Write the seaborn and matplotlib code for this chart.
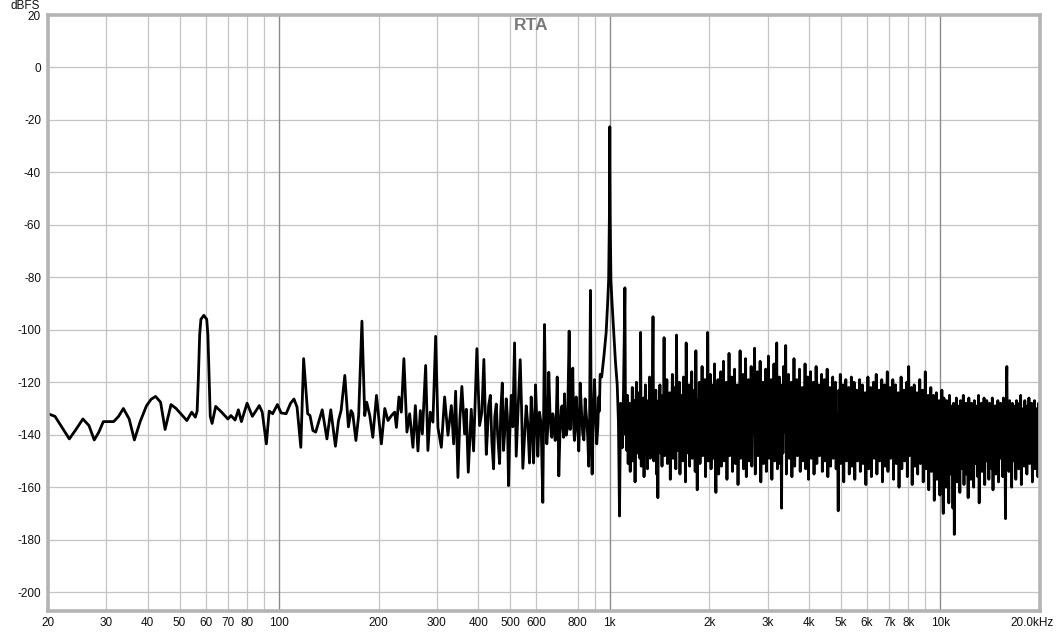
import numpy as np
import matplotlib
matplotlib.use("Agg")
import matplotlib.pyplot as plt
import matplotlib.transforms as mtransforms
import seaborn as sns

# low / mid band, read point by point (Hz, dBFS)
low_freq = [20, 21, 22, 23.2, 24.3, 25.5, 26.6, 27.6, 28.5, 29.4, 31.6, 32.7, 33.8, 35.2, 36.5,
            38.0, 39.7, 41.0, 42.3, 43.8, 45.2, 47.1, 48.8, 50.4, 52.6, 54.4, 55.8, 56.5, 57.0,
            57.5, 58.0, 59.2, 60.4, 60.9, 61.4, 61.9, 62.7, 64.3, 67.0, 70.0, 71.5, 73.6, 75.3,
            76.9, 80.0, 83.0, 87.1, 88.9, 91.5, 93.3, 95.6, 98.8, 101.4, 105, 108.3, 110.9,
            113.3, 116.3, 118.6, 122, 124, 126.5, 129, 135, 139.5, 143.3, 148, 151.2, 154, 158,
            162, 165, 167, 170.7, 174, 178, 181.5, 184, 188, 192, 197]
low_db = [-132, -133, -137, -141.6, -138, -134, -136.5, -142, -139, -135, -135, -133, -130, -134,
          -142, -135, -129, -126.5, -125.4, -127.6, -138, -128.5, -130, -132, -134.6, -131.4,
          -133.3, -131, -118, -102, -96, -94.5, -96, -102, -118, -133, -135.7, -129.2, -131.4,
          -134, -132.7, -134.4, -130.5, -135, -128, -133, -128.9, -131.4, -143.5, -131, -132,
          -128.5, -131.7, -132, -128, -126.4, -129.5, -144.8, -111, -132, -132.7, -138.4, -139,
          -130.5, -141.6, -130.5, -144.4, -134.6, -130.7, -117.4, -137, -130.8, -132, -142.2,
          -132.7, -96.7, -132.7, -127.6, -132.7, -141, -125]

mid_freq = [203.8, 208.7, 213.4, 218.6, 223.6, 226.3, 230.3, 234.2, 238.4, 243.5, 248.2, 253.9,
            258.2, 262.9, 267.3, 271.1, 277.4, 281.8, 286.5, 291.8, 297.4, 302.2, 309.4, 316.6,
            324.0, 331.7, 337.1, 341.8, 347.3, 352, 357.0, 363.8, 368.2, 373.3, 381.1, 387.3,
            396.3, 403.8, 410.4, 416.1, 423.2, 427, 430, 435.2, 440, 445.2, 449, 453.6, 458,
            464.2, 468, 473.0, 477, 480.6, 486.3, 490, 494.1, 498, 503.5, 509, 515.2, 521.2, 525,
            529.6, 535.9, 541, 545.8, 552, 558.8, 565, 571.8, 575, 578.5, 583, 588.0, 592, 596.2,
            601, 605.8, 609, 612.9, 620, 627.2, 634.6, 640, 644.9, 649, 653.9, 659, 665.1, 668,
            672.4, 678, 683.7, 688, 693.4, 697, 701.1, 707, 712.9, 717, 720.9, 725, 729.4, 733,
            738.2, 745, 753.6, 759, 764.2, 768, 772.7, 777, 781.8, 786, 791.2, 798, 805.6, 809,
            813.6, 821, 828.4, 835, 842.4, 847, 851.8, 857, 863.6, 869, 874.0, 879, 884.2, 891,
            898.8, 905, 913.0, 920, 926.0, 930, 935.0]
mid_db = [-143.5, -130, -134.6, -132.7, -131.4, -137.2, -125.6, -131.4, -111, -139, -132, -144.8,
          -128.9, -146.2, -130.8, -139.7, -113.6, -146, -131.4, -135.2, -102.5, -137.3, -144.8,
          -125.6, -140.2, -128.9, -143.5, -123.4, -156.3, -134, -121.6, -139.7, -130.3, -154.3,
          -130.3, -146.2, -107.2, -136.5, -131.4, -111.3, -147.5, -138, -129, -125, -143,
          -153, -133, -128.3, -140, -151, -131, -120.3, -146, -139.7, -126.3, -133, -159.4,
          -141, -125, -137, -105, -148.2, -138, -126.3, -111.4, -130, -152.8, -141, -129, -136,
          -150.8, -140, -125.6, -134, -150.8, -139, -121, -133, -148.2, -140, -131.4, -136,
          -165.8, -98, -133, -143.5, -138, -116.2, -131, -139.7, -141, -132, -135, -142.2, -137,
          -118, -132, -155.7, -139, -130.3, -129, -136.5, -141, -124.4, -133, -140.2, -137,
          -100.5, -138, -132, -127, -114.6, -136, -142.2, -138, -125.6, -133, -146.2, -139,
          -120.3, -131, -139.7, -142, -126.3, -131, -134.6, -140, -152, -133, -85, -138, -155,
          -135, -119, -130, -143.5, -137, -125.6, -131, -117]

# 1 kHz test tone and its skirt
tone_freq = [945, 960, 975, 985, 992, 997, 1000, 1003, 1008, 1016, 1028, 1040, 1053, 1062, 1070,
             1078, 1090, 1100, 1111, 1116]
tone_db = [-118, -110, -101, -90, -81, -58, -22.6, -58, -81, -90, -101, -112, -121, -135, -171,
           -128, -145, -124, -84, -140]

# dense noise floor 1.12 kHz .. 20 kHz, one value per analyser bin
hf_db = [
    -132, -146, -125, -151, -137, -128, -154, -131, -143, -122, -150, -134, -127, -158, -133, -120, -147, -129, -141, -124,
    -149, -101, -152, -130, -139, -126, -156, -135, -121, -144, -131, -153, -127, -140, -118, -149, -133, -145, -126, -95,
    -150, -129, -142, -123, -155, -132, -164, -127, -138, -121, -147, -130, -152, -125, -143, -103, -148, -128, -139, -119,
    -151, -131, -144, -124, -157, -129, -136, -117, -149, -133, -142, -122, -153, -102, -146, -127, -140, -120, -155, -130,
    -143, -125, -150, -118, -138, -132, -158, -105, -147, -126, -141, -121, -152, -134, -137, -116, -149, -128, -145, -123,
    -154, -108, -139, -161, -127, -146, -120, -151, -131, -137, -114, -148, -129, -143, -119, -156, -133, -140, -101, -150,
    -126, -145, -117, -153, -131, -138, -121, -149, -113, -142, -162, -128, -147, -119, -155, -134, -141, -116, -152, -125,
    -144, -112, -150, -130, -137, -120, -157, -127, -143, -109, -148, -133, -139, -118, -154, -124, -146, -115, -151, -131,
    -138, -121, -159, -126, -145, -108, -149, -132, -140, -117, -153, -123, -144, -111, -156, -129, -136, -119, -150, -127,
    -147, -114, -152, -130, -139, -122, -107, -155, -125, -142, -116, -148, -133, -137, -112, -158, -128, -145, -120, -151,
    -131, -141, -115, -154, -124, -146, -110, -149, -134, -138, -119, -157, -126, -143, -113, -150, -129, -140, -105, -153,
    -127, -144, -118, -151, -132, -168, -121, -147, -114, -139, -130, -106, -155, -125, -142, -117, -149, -133, -137, -120,
    -156, -128, -145, -111, -152, -130, -141, -119, -148, -126, -138, -115, -154, -131, -143, -122, -150, -124, -146, -113,
    -153, -129, -140, -118, -157, -127, -144, -116, -149, -132, -139, -120, -155, -125, -147, -114, -151, -133, -142, -121,
    -148, -126, -137, -117, -154, -130, -145, -119, -150, -128, -141, -115, -156, -124, -143, -122, -152, -131, -139, -118,
    -149, -127, -146, -120, -153, -132, -140, -169, -123, -147, -117, -151, -129, -144, -121, -158, -126, -138, -119, -150,
    -133, -143, -122, -155, -128, -148, -118, -152, -130, -141, -120, -157, -125, -145, -123, -150, -131, -139, -119, -154,
    -127, -146, -121, -151, -134, -142, -124, -159, -129, -144, -118, -153, -126, -140, -122, -156, -132, -147, -120, -149,
    -128, -143, -117, -155, -130, -145, -123, -150, -126, -141, -119, -158, -133, -148, -121, -152, -127, -139, -116, -154,
    -131, -146, -122, -149, -125, -142, -119, -157, -129, -144, -121, -151, -134, -147, -124, -160, -127, -140, -118, -153,
    -130, -145, -123, -150, -128, -143, -120, -156, -132, -114, -148, -126, -141, -122, -159, -129, -146, -121, -152, -133,
    -139, -124, -155, -127, -147, -119, -151, -131, -144, -123, -158, -128, -142, -116, -153, -130, -149, -125, -161, -126,
    -146, -122, -154, -130, -143, -125, -165, -128, -150, -124, -157, -131, -145, -127, -163, -129, -148, -123, -156, -170,
    -126, -152, -130, -160, -127, -147, -132, -166, -125, -155, -129, -144, -133, -168, -128, -178, -131, -150, -126, -158,
    -129, -146, -134, -162, -127, -153, -130, -148, -125, -159, -132, -143, -128, -155, -131, -164, -126, -149, -133, -157,
    -128, -145, -131, -160, -127, -151, -134, -147, -129, -156, -125, -166, -132, -148, -128, -154, -130, -143, -126, -159,
    -133, -150, -127, -146, -131, -157, -128, -144, -135, -153, -126, -161, -130, -147, -129, -155, -132, -142, -127, -158,
    -131, -149, -128, -145, -133, -156, -126, -151, -130, -172, -129, -114, -147, -132, -154, -127, -144, -131, -160, -128,
    -150, -129, -146, -134, -157, -127, -143, -131, -153, -128, -148, -125, -159, -132, -145, -130, -152, -127, -141, -133,
    -155, -129, -147, -126, -151, -134, -144, -128, -158, -131, -146, -127, -153, -130, -142, -132, -156, -128, -149, -135,
]
hf_freq = np.geomspace(1120, 20000, len(hf_db))  # analyser bin centres

freq = np.concatenate([low_freq, mid_freq, tone_freq, hf_freq])
level = np.concatenate([low_db, mid_db, tone_db, hf_db])

x_ticks = [20, 30, 40, 50, 60, 70, 80, 100, 200, 300, 400, 500, 600, 800, 1000,
           2000, 3000, 4000, 5000, 6000, 7000, 8000, 10000, 20000]
x_labels = ["20", "30", "40", "50", "60", "70", "80", "100", "200", "300", "400", "500", "600",
            "800", "1k", "2k", "3k", "4k", "5k", "6k", "7k", "8k", "10k", "20.0kHz"]
x_minor = [90, 900, 9000]
decades = [100, 1000, 10000]
y_ticks = list(range(-200, 21, 20))

sns.set_style("white")
plt.rcParams["font.family"] = ["Liberation Sans", "DejaVu Sans"]
plt.rcParams["axes.unicode_minus"] = False

fig = plt.figure(figsize=(10.63, 6.33), dpi=100)
ax = fig.add_axes([48 / 1063, 1 - 611 / 633, 992 / 1063, 596 / 633])
ax.set_xscale("log")

sns.lineplot(x=freq, y=level, ax=ax, color="black", lw=2.0, estimator=None, sort=False)

ax.set_xlim(20, 20000)
ax.set_ylim(-207.2, 20)
ax.set_xticks(x_ticks)
ax.set_xticklabels(x_labels)
ax.set_xticks(x_minor, minor=True)
ax.set_yticks(y_ticks)
ax.xaxis.set_minor_formatter(matplotlib.ticker.NullFormatter())
ax.grid(True, which="both", color="#c4c4c4", lw=0.9, zorder=0)
for d in decades:
    ax.axvline(d, color="#8a8a8a", lw=0.9, zorder=1)
ax.set_axisbelow(True)
ax.tick_params(which="both", length=0, labelsize=8.5, colors="#111111")
ax.tick_params(axis="x", pad=4)
ax.tick_params(axis="y", pad=5)
for s in ax.spines.values():
    s.set_color("#b4b4b4")
    s.set_linewidth(2.6)
ax.set_xlabel("")
ax.set_ylabel("")

last = ax.get_xticklabels()[-1]
last.set_transform(last.get_transform() + mtransforms.ScaledTranslation(-8 / 100, 0, fig.dpi_scale_trans))

ax.text(0.487, 0.982, "RTA", transform=ax.transAxes, ha="center", va="center",
        fontsize=12.5, fontweight="bold", color="#7a7a7a")
fig.text(25 / 1063, 1 - 6 / 633, "dBFS", ha="center", va="center", fontsize=8.5, color="#111111")

fig.savefig("out.png", dpi=100, facecolor="white")
